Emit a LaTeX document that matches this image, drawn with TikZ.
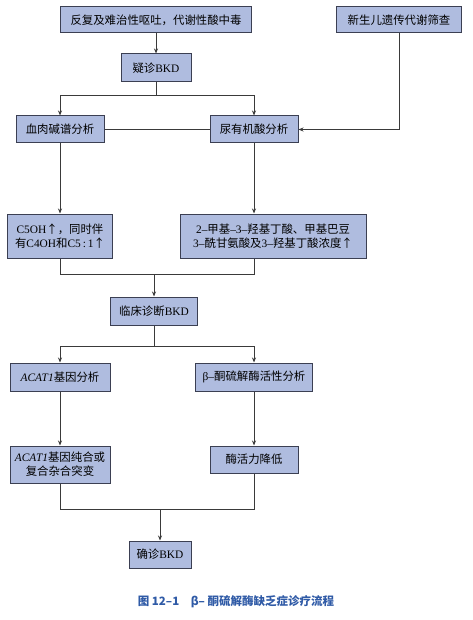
\documentclass[tikz,border=0pt]{standalone}
\usepackage{fontspec}
\setmainfont{Noto Sans CJK SC}
\newfontfamily\latinserif[Ligatures=TeX]{Liberation Serif}
\newcommand{\lat}[1]{{\latinserif #1}}
\usetikzlibrary{arrows,arrows.meta}
\definecolor{boxfill}{HTML}{AFBCDF}
\definecolor{boxline}{HTML}{3B3F52}
\definecolor{linkgray}{HTML}{3A3A3A}
\definecolor{captionblue}{HTML}{2F5AA6}

\begin{document}
\begin{tikzpicture}[x=1pt, y=-1pt, > = {Stealth[length=5pt,width=4pt]}, box/.style = {draw=boxline, fill=boxfill, line width=1pt, inner sep=0pt, align=center, font=\fontsize{11.4}{14}\selectfont}, link/.style = {draw=linkgray, line width=0.8pt}]
    \useasboundingbox (0,0) rectangle (473,620);

    % top row
    \node[box, minimum width=191pt, minimum height=26pt] (vomit) at (156,20) {反复及难治性呕吐，代谢性酸中毒};
    \node[box, minimum width=125pt, minimum height=26pt] (screen) at (399,20) {新生儿遗传代谢筛查};
    \node[box, minimum width=70pt, minimum height=28pt] (suspect) at (156,68) {疑诊\lat{BKD}};

    % analyses
    \node[box, minimum width=88pt, minimum height=27pt] (blood) at (60,129.5) {血肉碱谱分析};
    \node[box, minimum width=88pt, minimum height=27pt] (urine) at (254,129.5) {尿有机酸分析};
    \node[box, minimum width=105pt, minimum height=44pt] (c5oh) at (60,236) {\lat{C5OH}↑，同时伴\\有\lat{C4OH}和\lat{C5\,:\,1}↑};
    \node[box, minimum width=186pt, minimum height=44pt] (acid) at (273,236) {\lat{2–}甲基\lat{–3–}羟基丁酸、甲基巴豆\\\lat{3–}酰甘氨酸及\lat{3–}羟基丁酸浓度↑};
    \node[box, minimum width=87pt, minimum height=28pt] (clinic) at (154,311) {临床诊断\lat{BKD}};

    % confirmation
    \node[box, minimum width=100pt, minimum height=28pt] (gene) at (60,377) {\lat{\itshape ACAT1}基因分析};
    \node[box, minimum width=117pt, minimum height=28pt] (enzyme) at (254,377) {\lat{β–}酮硫解酶活性分析};
    \node[box, minimum width=100pt, minimum height=37pt] (mut) at (60,464.5) {\lat{\itshape ACAT1}基因纯合或\\复合杂合突变};
    \node[box, minimum width=88pt, minimum height=27pt] (low) at (254,459.5) {酶活力降低};
    \node[box, minimum width=62pt, minimum height=27pt] (confirm) at (160,554.5) {确诊\lat{BKD}};

    % caption
    \node[font=\fontsize{11.5}{14}\selectfont\bfseries, text=captionblue] (caption) at (236,602) {图 12–1\quad β– 酮硫解酶缺乏症诊疗流程};

    % junctions
    \coordinate (split1) at (156,95);
    \coordinate (merge1) at (154,274);
    \coordinate (split2) at (154,346);
    \coordinate (merge2) at (160,509);

    % connectors
    \draw[link, ->] (vomit) -- (suspect);
    \draw[link] (suspect) -- (split1);
    \draw[link, ->] (split1) -| (blood);
    \draw[link, ->] (split1) -| (urine);
    \draw[link] (blood) -- (urine);
    \draw[link, ->] (screen) |- (urine);
    \draw[link, ->] (blood) -- (c5oh);
    \draw[link, ->] (urine) -- (urine |- acid.north);
    \draw[link] (c5oh) |- (merge1);
    \draw[link] (acid.south -| urine) |- (merge1);
    \draw[link, ->] (merge1) -- (clinic);
    \draw[link] (clinic) -- (split2);
    \draw[link, ->] (split2) -| (gene);
    \draw[link, ->] (split2) -| (enzyme);
    \draw[link, ->] (gene) -- (mut);
    \draw[link, ->] (enzyme) -- (low);
    \draw[link] (mut) |- (merge2);
    \draw[link] (low) |- (merge2);
    \draw[link, ->] (merge2) -- (confirm);

\end{tikzpicture}
\end{document}
